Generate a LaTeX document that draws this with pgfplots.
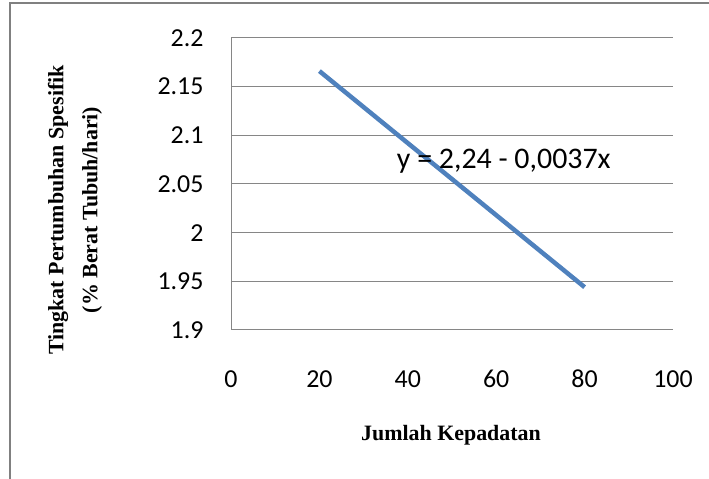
\documentclass[border=0pt]{standalone}
\usepackage{pgfplots}
\pgfplotsset{compat=1.18}
\usepackage{fontspec}
\setmainfont{Carlito}
\newfontfamily\serifb{Liberation Serif}
\definecolor{exblue}{RGB}{79,129,189}
\definecolor{gridg}{RGB}{134,134,134}
\definecolor{bord}{RGB}{128,128,128}
\begin{document}
\begin{tikzpicture}[x=1bp,y=1bp]
\useasboundingbox (0,0) rectangle (709,479);
\draw[bord,line width=2bp] (10,0) -- (10,476) -- (709,476);
\begin{axis}[
  at={(231bp,149bp)}, anchor=south west,
  scale only axis, width=442bp, height=292bp,
  xmin=0, xmax=100, ymin=1.9, ymax=2.2,
  xtick={0,20,40,60,80,100},
  ytick={1.9,1.95,2,2.05,2.1,2.15,2.2},
  yticklabels={1.9,1.95,2,2.05,2.1,2.15,2.2},
  xticklabels={0,20,40,60,80,100},
  ymajorgrids, major grid style={gridg,line width=1bp},
  axis x line*=bottom, axis y line*=left,
  axis line style={gridg,line width=1bp,-},
  major tick length=0pt,
  tick label style={font=\fontsize{26}{30}\selectfont, text=black},
  xticklabel style={anchor=base, yshift=-58bp},
  yticklabel style={anchor=east, xshift=-24bp},
  clip=false,
]
\addplot[exblue, line width=4.5bp] coordinates {(20,2.166) (80,1.944)};
\node[anchor=west, inner sep=0pt, font=\fontsize{30}{33}\selectfont] at (axis cs:37.5,2.073) {y = 2,24 - 0,0037x};
\end{axis}
\node[rotate=90, align=center, font=\serifb\bfseries\fontsize{22}{34}\selectfont] at (75,269) {Tingkat Pertumbuhan Spesifik\\(\% Berat Tubuh/hari)};
\node[font=\serifb\bfseries\fontsize{22}{26}\selectfont] at (451,44) {Jumlah Kepadatan};
\end{tikzpicture}
\end{document}
